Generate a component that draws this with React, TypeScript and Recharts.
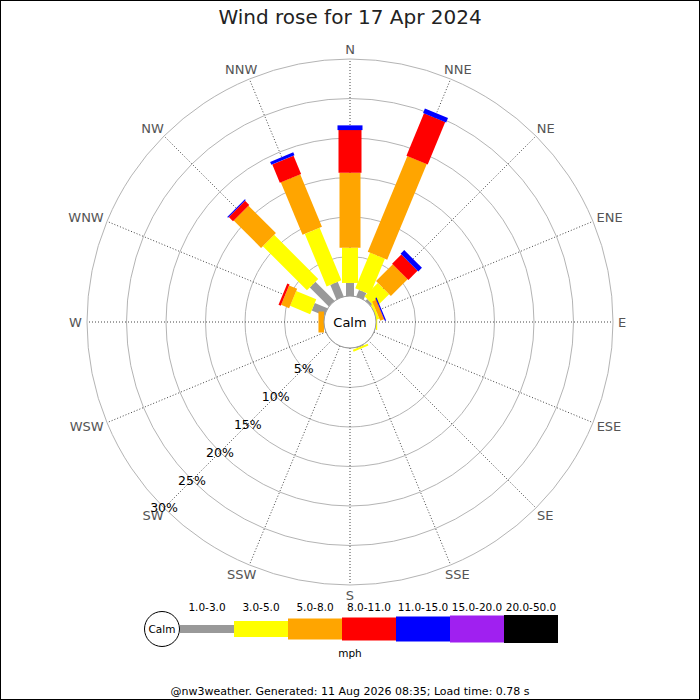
import { RadialBarChart, RadialBar, PolarAngleAxis, PolarRadiusAxis, PolarGrid } from 'recharts'

// compass sectors, clockwise from north
const DIRECTIONS = ['N', 'NNE', 'NE', 'ENE', 'E', 'ESE', 'SE', 'SSE', 'S', 'SSW', 'SW', 'WSW', 'W', 'WNW', 'NW', 'NNW']
const SPEED_BANDS = ['1.0-3.0', '3.0-5.0', '5.0-8.0', '8.0-11.0', '11.0-15.0', '15.0-20.0', '20.0-50.0']

// % of time per sector, per speed band (mph)
const band1to3 = [1.65, 0.9, 0.3, 0, 0, 0, 0, 0.1, 0, 0, 0, 0, 0, 1.75, 3.4, 2.0]
const band3to5 = [4.45, 4.9, 2.4, 0.3, 0.15, 0, 0, 0.25, 0, 0, 0, 0, 0, 2.75, 7.9, 7.2]
const band5to8 = [9.5, 13.1, 3.0, 0.5, 0, 0, 0, 0, 0, 0, 0, 0, 0.7, 1.1, 4.9, 7.2]
const band8to11 = [5.4, 5.8, 1.65, 0.05, 0, 0, 0, 0, 0, 0, 0, 0, 0, 0.3, 0.75, 2.5]
const band11to15 = [0.6, 0.6, 0.65, 0.15, 0, 0, 0, 0, 0, 0, 0, 0, 0, 0, 0.15, 0.4]
const band15to20 = [0, 0, 0, 0, 0, 0, 0, 0, 0, 0, 0, 0, 0, 0, 0, 0]
const band20to50 = [0, 0, 0, 0, 0, 0, 0, 0, 0, 0, 0, 0, 0, 0, 0, 0]

const RING_TICKS = [0, 5, 10, 15, 20, 25, 30]

const SERIES = [band1to3, band3to5, band5to8, band8to11, band11to15, band15to20, band20to50]
const BAND_COLORS = ['#999999', '#ffff00', '#ffa500', '#ff0000', '#0000ff', '#a020f0', '#000000']
const BAND_WIDTHS = [8, 16, 21, 23, 25, 27, 28]

const CX = 350
const CY = 322
const INNER = 26
const OUTER = 263
const FONT = '"DejaVu Sans", sans-serif'

const data = DIRECTIONS.map((dir, i) => {
  const row: Record<string, string | number> = { dir }
  SERIES.forEach((s, k) => {
    row[`b${k}`] = s[i]
  })
  return row
})

// straight bar of fixed width along the middle of the sector recharts computes
const barShape = (w: number) => (p: any) => {
  const { cx, cy, innerRadius, outerRadius, startAngle, endAngle, fill } = p
  if (!(outerRadius - innerRadius > 0.2)) return <g />
  const a = (((startAngle + endAngle) / 2) * Math.PI) / 180
  const ux = Math.cos(a)
  const uy = -Math.sin(a)
  const px = -uy * (w / 2)
  const py = ux * (w / 2)
  const pts = [
    [cx + ux * innerRadius + px, cy + uy * innerRadius + py],
    [cx + ux * outerRadius + px, cy + uy * outerRadius + py],
    [cx + ux * outerRadius - px, cy + uy * outerRadius - py],
    [cx + ux * innerRadius - px, cy + uy * innerRadius - py],
  ]
  return <polygon points={pts.map((q) => q.join(',')).join(' ')} fill={fill} />
}

const CHAR_W: Record<string, number> = { N: 9.7, E: 8.2, S: 8.3, W: 12.9 }

function DirTick(props: any) {
  const label = String(props.payload?.value ?? '')
  const idx = DIRECTIONS.indexOf(label)
  const th = (idx * 22.5 * Math.PI) / 180
  const w = [...label].reduce((acc, c) => acc + (CHAR_W[c] ?? 9), 0)
  const r0 = OUTER + 5
  const x = CX + r0 * Math.sin(th) + (w / 2) * Math.sin(th)
  const y = CY - r0 * Math.cos(th) - 5 * Math.cos(th)
  return (
    <text x={x} y={y} textAnchor="middle" dominantBaseline="central" fontSize={13} fontFamily={FONT} fill="#555">
      {label}
    </text>
  )
}

function RingTick(props: any) {
  const v = props.payload?.value
  if (!v) return <g />
  return (
    <text x={props.x} y={props.y} textAnchor="middle" dominantBaseline="central" fontSize={12.5} fontFamily={FONT} fill="#000">
      {`${v}%`}
    </text>
  )
}

export default function App() {
  return (
    <div style={{ position: 'absolute', left: 0, top: 0, width: 700, height: 700, background: '#fff' }}>
      <RadialBarChart
        width={700}
        height={700}
        data={data}
        layout="centric"
        cx={CX}
        cy={CY}
        innerRadius={INNER}
        outerRadius={OUTER}
        startAngle={78.75}
        endAngle={-281.25}
        margin={{ top: 0, right: 0, bottom: 0, left: 0 }}
      >
        <PolarGrid gridType="circle" radialLines={false} stroke="#b4b4b4" />
        <PolarGrid
          gridType="circle"
          polarRadius={[]}
          polarAngles={DIRECTIONS.map((_, i) => 90 - i * 22.5)}
          stroke="#444"
          strokeDasharray="1 2"
        />
        <PolarAngleAxis type="category" dataKey="dir" axisLine={false} tickLine={false} tick={DirTick} />
        <PolarRadiusAxis
          type="number"
          domain={[0, 30]}
          ticks={RING_TICKS}
          tickCount={7}
          angle={-135}
          axisLine={false}
          tickLine={false}
          tick={RingTick}
        />
        {SERIES.map((_, k) => (
          <RadialBar
            key={k}
            dataKey={`b${k}`}
            stackId="speed"
            fill={BAND_COLORS[k]}
            shape={barShape(BAND_WIDTHS[k])}
            isAnimationActive={false}
          />
        ))}
      </RadialBarChart>

      <svg width={700} height={700} style={{ position: 'absolute', left: 0, top: 0, pointerEvents: 'none' }}>
        <rect x={0.5} y={0.5} width={699} height={699} fill="none" stroke="#000" />
        <text x={350} y={24} textAnchor="middle" fontSize={20} fontFamily={FONT} fill="#222">
          Wind rose for 17 Apr 2024
        </text>

        <circle cx={CX} cy={CY} r={INNER} fill="#fff" stroke="#999" />
        <text x={CX} y={CY} textAnchor="middle" dominantBaseline="central" fontSize={13} fontFamily={FONT} fill="#000">
          Calm
        </text>

        {/* speed legend */}
        <circle cx={162} cy={629} r={17.5} fill="#fff" stroke="#000" />
        <text x={162} y={629} textAnchor="middle" dominantBaseline="central" fontSize={10.5} fontFamily={FONT}>
          Calm
        </text>
        {SPEED_BANDS.map((label, k) => (
          <g key={label}>
            <rect x={180 + 54 * k} y={629 - BAND_WIDTHS[k] / 2} width={54} height={BAND_WIDTHS[k]} fill={BAND_COLORS[k]} />
            <text x={207 + 54 * k} y={611} textAnchor="middle" fontSize={10.5} fontFamily={FONT} fill="#000">
              {label}
            </text>
          </g>
        ))}
        <text x={350} y={657} textAnchor="middle" fontSize={10.5} fontFamily={FONT} fill="#000">
          mph
        </text>

        <text x={350} y={695} textAnchor="middle" fontSize={11} fontFamily={FONT} fill="#000">
          @nw3weather. Generated: 11 Aug 2026 08:35; Load time: 0.78 s
        </text>
      </svg>
    </div>
  )
}
